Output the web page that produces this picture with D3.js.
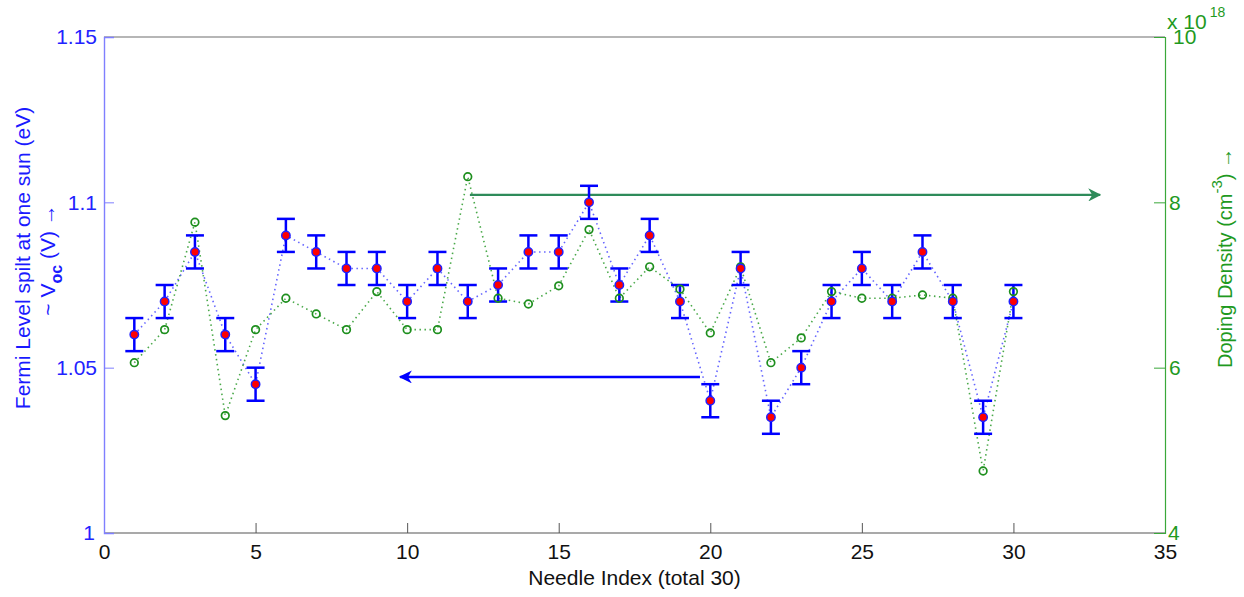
<!DOCTYPE html>
<html>
<head>
<meta charset="utf-8">
<script src="https://cdn.jsdelivr.net/npm/d3@7"></script>
<style>
  html, body { margin: 0; padding: 0; background: #fff; }
  svg { display: block; font-family: "Liberation Sans", Arial, Helvetica, sans-serif; }
</style>
</head>
<body>
<svg id="chart" width="1244" height="597"></svg>
<script>
// Needle index (1..30)
const needles = [1,2,3,4,5,6,7,8,9,10,11,12,13,14,15,16,17,18,19,20,21,22,23,24,25,26,27,28,29,30];
// Fermi level split at one sun (eV) ~ Voc (V)
const voc = [1.060,1.070,1.085,1.060,1.045,1.090,1.085,1.080,1.080,1.070,
             1.080,1.070,1.075,1.085,1.085,1.100,1.075,1.090,1.070,1.040,
             1.080,1.035,1.050,1.070,1.080,1.070,1.085,1.070,1.035,1.070];
// Uncertainty of each Voc value (eV)
const vocErr = [0.005,0.005,0.005,0.005,0.005,0.005,0.005,0.005,0.005,0.005,
                0.005,0.005,0.005,0.005,0.005,0.005,0.005,0.005,0.005,0.005,
                0.005,0.005,0.005,0.005,0.005,0.005,0.005,0.005,0.005,0.005];
// Doping density (x 10^18 cm^-3)
const doping = [6.06,6.46,7.76,5.42,6.46,6.84,6.65,6.46,6.92,6.46,
                6.46,8.31,6.84,6.77,6.99,7.67,6.84,7.22,6.95,6.42,
                7.22,6.06,6.36,6.92,6.84,6.84,6.88,6.84,4.75,6.92];
// Axis ticks
const xTicks = [0,5,10,15,20,25,30,35];
const yLeftTicks = [1,1.05,1.1,1.15];
const yRightTicks = [4,6,8,10];
// Annotation arrows: [x start, x end, level]
const dopingArrow = [12.07, 32.86, 8.09];
const vocArrow = [19.66, 9.77, 1.0472];

const svg = d3.select("#chart");
const m = {left: 104, top: 37, right: 79, bottom: 64};
const W = 1244 - m.left - m.right;
const H = 597 - m.top - m.bottom;

const x = d3.scaleLinear().domain([0, 35]).range([0, W]);
const yL = d3.scaleLinear().domain([1, 1.15]).range([H, 0]);
const yR = d3.scaleLinear().domain([4, 10]).range([H, 0]);

const BLUE = "#0000ff";
const GREEN = "#1f9a1f";
const ARROW_GREEN = "#2e8b5a";
const FS = 21;

const defs = svg.append("defs");
defs.append("marker").attr("id", "headGreen")
  .attr("viewBox", "0 0 10 10").attr("refX", 9).attr("refY", 5)
  .attr("markerWidth", 6).attr("markerHeight", 6).attr("markerUnits", "strokeWidth")
  .attr("orient", "auto")
  .append("path").attr("d", "M0,0 L10,5 L0,10 L3,5 Z").attr("fill", ARROW_GREEN);
defs.append("marker").attr("id", "headBlue")
  .attr("viewBox", "0 0 10 10").attr("refX", 9).attr("refY", 5)
  .attr("markerWidth", 5).attr("markerHeight", 5).attr("markerUnits", "strokeWidth")
  .attr("orient", "auto")
  .append("path").attr("d", "M0,0 L10,5 L0,10 L3,5 Z").attr("fill", BLUE);

const g = svg.append("g").attr("transform", `translate(${m.left},${m.top})`);

// Box
g.append("line").attr("x1", 0).attr("x2", W).attr("y1", 0).attr("y2", 0)
  .attr("stroke", "#6e6e6e").attr("stroke-width", 1.2);
g.append("line").attr("x1", 0).attr("x2", W).attr("y1", H).attr("y2", H)
  .attr("stroke", "#555").attr("stroke-width", 1.2);

// Bottom axis (ticks inward)
const xAxis = g.append("g").attr("transform", `translate(0,${H})`)
  .call(d3.axisBottom(x).tickValues(xTicks).tickSize(-10).tickPadding(11).tickFormat(d3.format("d")));
xAxis.select(".domain").remove();
xAxis.selectAll(".tick line").attr("stroke", "#555");
xAxis.selectAll(".tick text").attr("fill", "#111").attr("font-size", FS);
xAxis.selectAll(".tick").filter(d => d === 0 || d === 35).select("line").remove();

// Left axis (ticks inward)
const yAxisL = g.append("g")
  .call(d3.axisLeft(yL).tickValues(yLeftTicks).tickSize(-10).tickPadding(7).tickFormat(d => d3.format("")(d)));
yAxisL.select(".domain").attr("stroke", "#7f7fff").attr("stroke-width", 1.4);
yAxisL.selectAll(".tick line").attr("stroke", "#7f7fff");
yAxisL.selectAll(".tick text").attr("fill", "#2222ff").attr("font-size", FS);
yAxisL.selectAll(".tick").filter(d => d === 1 || d === 1.15).select("line").remove();
yAxisL.selectAll(".tick").filter(d => d === 1).select("text").attr("x", -9);

// Right axis (ticks inward)
const yAxisR = g.append("g").attr("transform", `translate(${W},0)`)
  .call(d3.axisRight(yR).tickValues(yRightTicks).tickSize(-11).tickPadding(4).tickFormat(d3.format("d")));
yAxisR.select(".domain").attr("stroke", "#3aa83a").attr("stroke-width", 1.2);
yAxisR.selectAll(".tick line").attr("stroke", "#3aa83a");
yAxisR.selectAll(".tick text").attr("fill", GREEN).attr("font-size", FS);
yAxisR.selectAll(".tick").filter(d => d === 4 || d === 10).select("line").remove();
yAxisR.selectAll(".tick").filter(d => d === 10).select("text").attr("x", 8);
yAxisR.selectAll(".tick").filter(d => d === 4).select("text").attr("x", 3);

// Exponent label on right axis
const expo = g.append("text").attr("x", W + 2).attr("y", -8).attr("fill", GREEN).attr("font-size", FS);
expo.append("tspan").text("x 10");
expo.append("tspan").attr("font-size", 14).attr("dy", -12).attr("dx", 3).text("18");

// Axis titles
svg.append("text").attr("x", m.left + W / 2).attr("y", 585).attr("text-anchor", "middle")
  .attr("fill", "#111").attr("font-size", FS).text("Needle Index (total 30)");

const lt = svg.append("text").attr("transform", "translate(30,258) rotate(-90)")
  .attr("text-anchor", "middle").attr("fill", "#1a1aff").attr("font-size", FS);
lt.text("Fermi Level spilt at one sun (eV)");
const lt2 = svg.append("text").attr("transform", "translate(55,260) rotate(-90)")
  .attr("text-anchor", "middle").attr("fill", "#1a1aff").attr("font-size", FS);
lt2.append("tspan").text("~ V");
lt2.append("tspan").attr("font-size", 16).attr("font-weight", "bold").attr("dy", 7).text("oc");
lt2.append("tspan").attr("dy", -7).text(" (V) \u2192");

const rt = svg.append("text").attr("transform", "translate(1232,258) rotate(-90)")
  .attr("text-anchor", "middle").attr("fill", GREEN).attr("font-size", 20);
rt.append("tspan").text("Doping Density (cm");
rt.append("tspan").attr("font-size", 15).attr("dy", -10).text("-3");
rt.append("tspan").attr("dy", 10).text(") \u2192");

// Dotted connecting lines
const vocLine = d3.line().x((d, i) => x(needles[i])).y(d => yL(d));
const dopLine = d3.line().x((d, i) => x(needles[i])).y(d => yR(d));
g.append("path").datum(voc).attr("d", vocLine).attr("fill", "none")
  .attr("stroke", "#4a4aff").attr("stroke-width", 1.6).attr("stroke-dasharray", "1.5,3.5").attr("opacity", 0.85);
g.append("path").datum(doping).attr("d", dopLine).attr("fill", "none")
  .attr("stroke", "#2a9a2a").attr("stroke-width", 1.6).attr("stroke-dasharray", "1.5,3.5").attr("opacity", 0.85);

// Annotation arrows
g.append("line")
  .attr("x1", x(dopingArrow[0])).attr("x2", x(dopingArrow[1]))
  .attr("y1", yR(dopingArrow[2])).attr("y2", yR(dopingArrow[2]))
  .attr("stroke", ARROW_GREEN).attr("stroke-width", 2.2).attr("marker-end", "url(#headGreen)");
g.append("line")
  .attr("x1", x(vocArrow[0])).attr("x2", x(vocArrow[1]))
  .attr("y1", yL(vocArrow[2])).attr("y2", yL(vocArrow[2]))
  .attr("stroke", BLUE).attr("stroke-width", 2.6).attr("marker-end", "url(#headBlue)");

// Error bars
const eb = g.append("g").attr("stroke", BLUE).attr("stroke-width", 2.5).attr("fill", "none");
needles.forEach((n, i) => {
  const cx = x(n), y0 = yL(voc[i] - vocErr[i]), y1 = yL(voc[i] + vocErr[i]);
  eb.append("line").attr("x1", cx).attr("x2", cx).attr("y1", y0).attr("y2", y1);
  eb.append("line").attr("x1", cx - 9).attr("x2", cx + 9).attr("y1", y0).attr("y2", y0);
  eb.append("line").attr("x1", cx - 9).attr("x2", cx + 9).attr("y1", y1).attr("y2", y1);
});

// Doping markers (open green circles)
g.append("g").selectAll("circle").data(doping).join("circle")
  .attr("cx", (d, i) => x(needles[i])).attr("cy", d => yR(d)).attr("r", 3.8)
  .attr("fill", "none").attr("stroke", "#1e8f1e").attr("stroke-width", 1.7);

// Voc markers (red with blue edge)
g.append("g").selectAll("circle").data(voc).join("circle")
  .attr("cx", (d, i) => x(needles[i])).attr("cy", d => yL(d)).attr("r", 4.2)
  .attr("fill", "#ff0000").attr("stroke", "#2020ff").attr("stroke-width", 1.5);
</script>
</body>
</html>
